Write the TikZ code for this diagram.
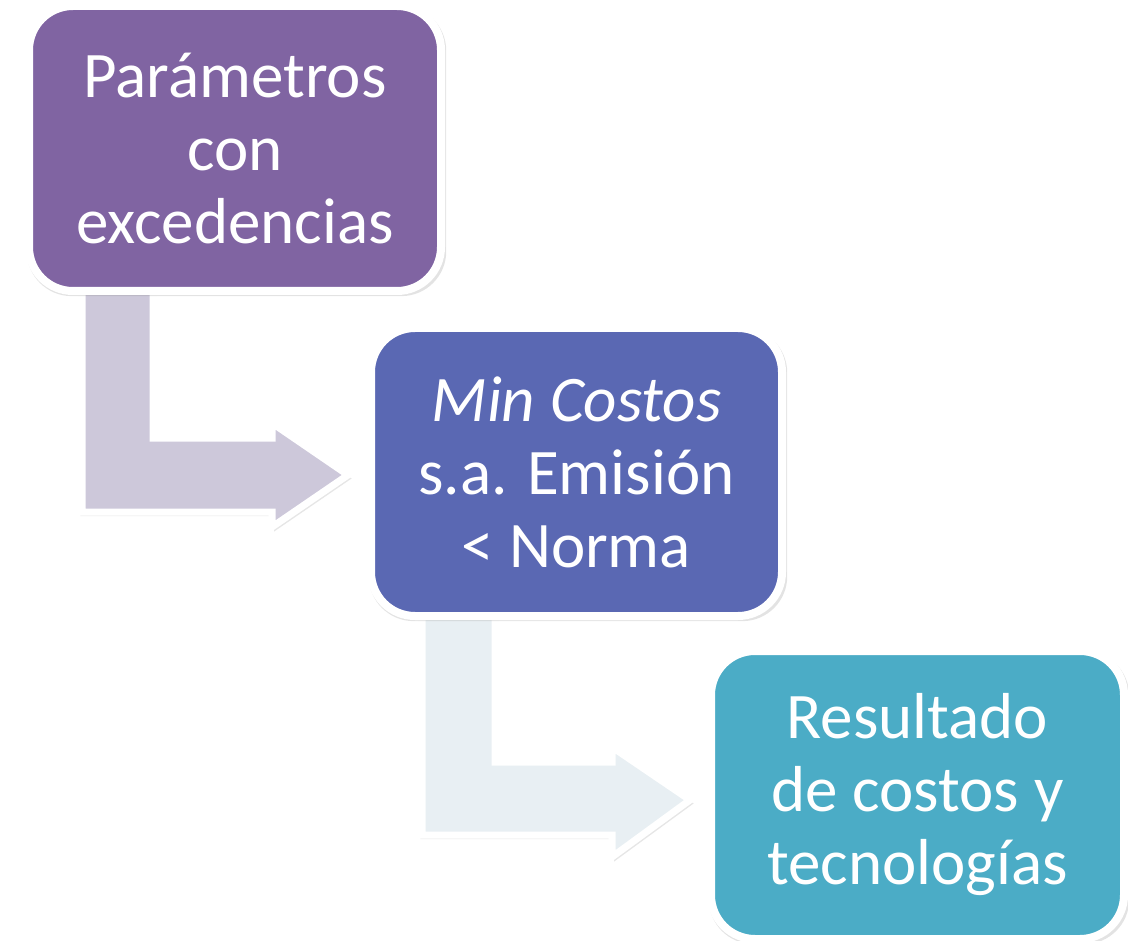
\documentclass[tikz,border=0pt]{standalone}
\usepackage{fontspec}
\setmainfont{Carlito}
\usetikzlibrary{shadows,calc}
\definecolor{boxA}{HTML}{8064A2}
\definecolor{boxB}{HTML}{5A68B3}
\definecolor{boxC}{HTML}{4BACC6}
\definecolor{arrA}{HTML}{CDC8DA}
\definecolor{arrB}{HTML}{E8EFF3}
\tikzset{
  stepbox/.style={draw=white, line width=8pt, rounded corners=44pt, text=white,
    align=center, inner sep=0pt, font=\fontsize{65}{73}\selectfont,
    drop shadow={shadow xshift=1.5pt, shadow yshift=-2.5pt, shadow scale=1.018, opacity=0.22}},
  bentarrow/.style={draw=white, line width=7pt, line join=miter,
    drop shadow={shadow xshift=1pt, shadow yshift=-2pt, shadow scale=1.02, opacity=0.2}}
}
\begin{document}
\begin{tikzpicture}[x=1pt,y=-1pt]
\useasboundingbox (0,0) rectangle (1128,941);
% arrows (drawn first, behind boxes)
\coordinate (a1top) at (117.5,280);
\coordinate (a1tip) at (348,475);
\coordinate (a2top) at (458.5,605);
\coordinate (a2tip) at (690,800);
\draw[bentarrow, fill=arrA] ($(a1top)+(-35.5,0)$) -- (82,512) -- (272,512) -- (272,527) -- (a1tip)
  -- (272,423) -- (272,438) -- (153,438) -- ($(a1top)+(35.5,0)$) -- cycle;
\draw[bentarrow, fill=arrB] ($(a2top)+(-36.5,0)$) -- (422,835) -- (612,835) -- (612,857) -- (a2tip)
  -- (612,747) -- (612,762) -- (495,762) -- ($(a2top)+(36.5,0)$) -- cycle;
% boxes
\node[stepbox, fill=boxA, minimum width=412pt, minimum height=285pt] (b1) at (235,148.5)
  {Parámetros\\con\\excedencias};
\node[stepbox, fill=boxB, minimum width=411pt, minimum height=288pt] (b2) at (576.5,472)
  {\itshape Min Costos\\s.a. Emisión\\< Norma};
\node[stepbox, fill=boxC, minimum width=413pt, minimum height=288pt] (b3) at (917.5,795)
  {Resultado\\de costos y\\tecnologías};
\end{tikzpicture}
\end{document}
